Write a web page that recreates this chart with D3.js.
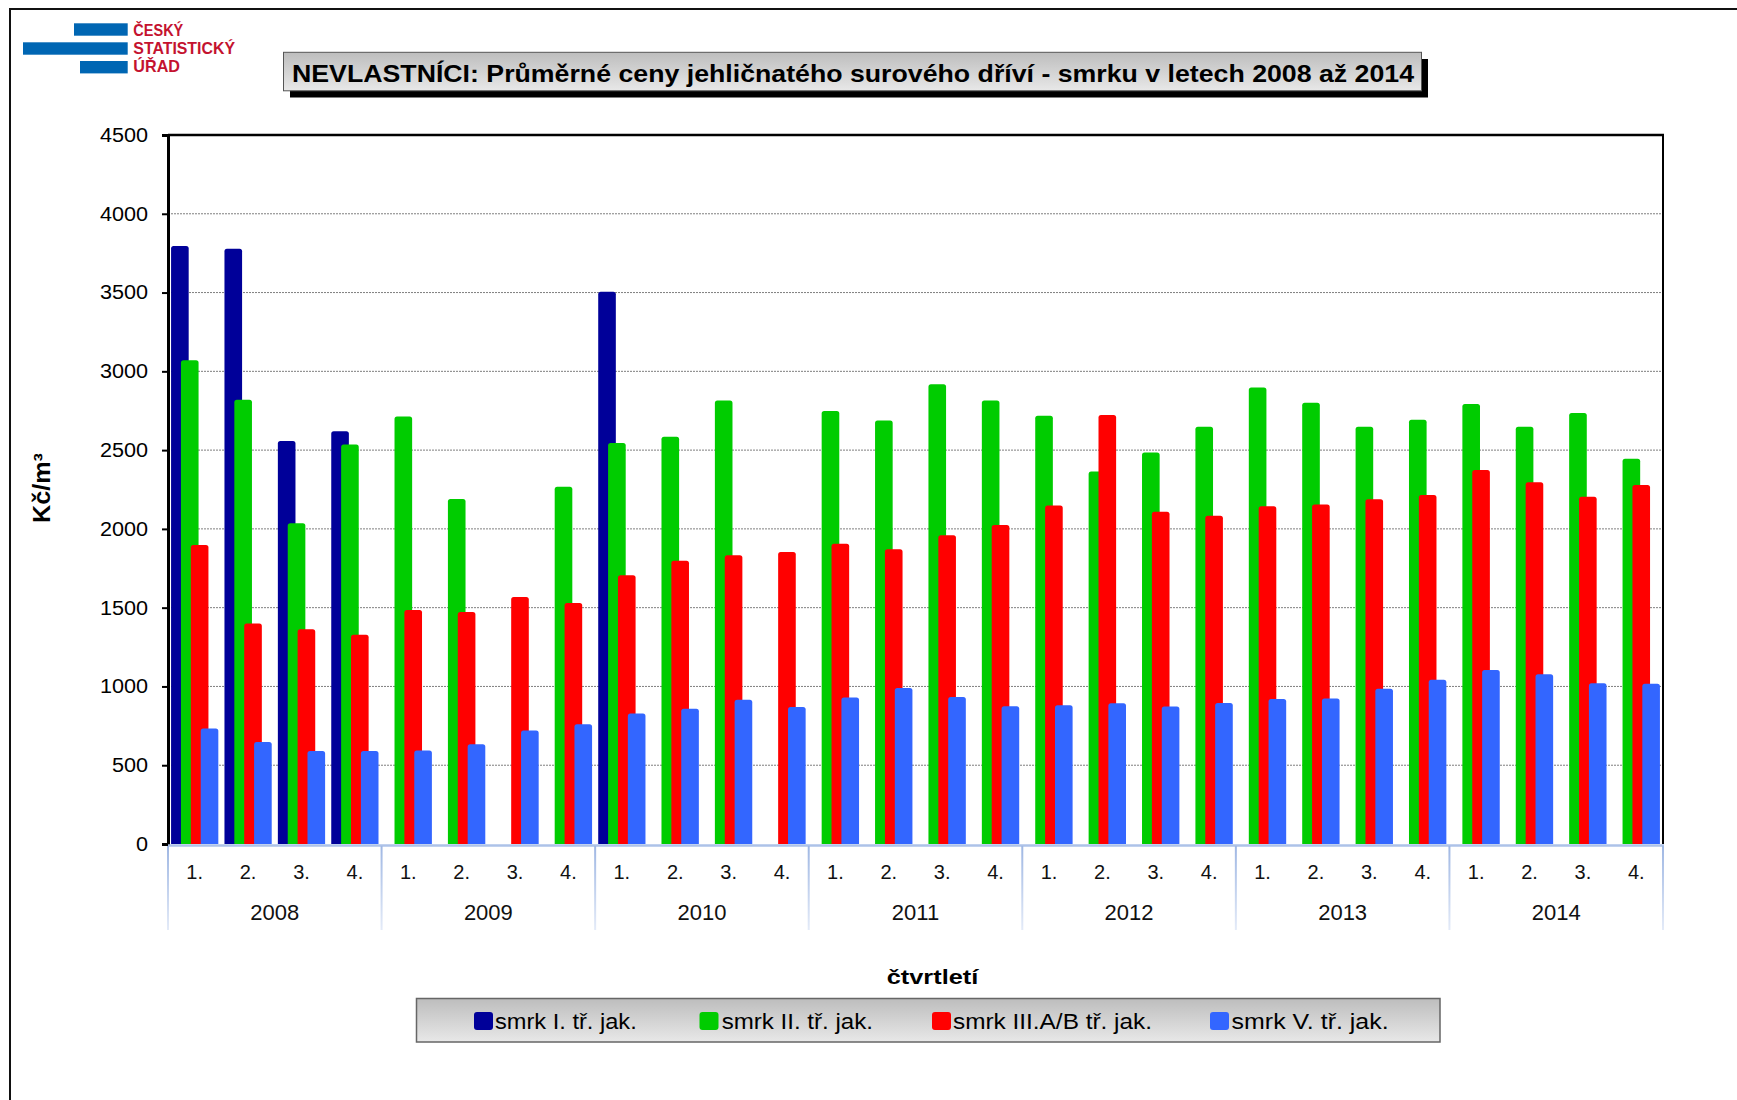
<!DOCTYPE html>
<html>
<head>
<meta charset="utf-8">
<script src="https://cdn.jsdelivr.net/npm/d3@7/dist/d3.min.js"></script>
<style>
  body { margin: 0; background: #fff; }
  text { font-family: "Liberation Sans", Arial, sans-serif; }
</style>
</head>
<body>
<div id="chart"></div>
<script>
// data (Kč/m³), null = no value
var years = ["2008", "2009", "2010", "2011", "2012", "2013", "2014"];
var quarters = ["1.", "2.", "3.", "4."];
var seriesNames = ["smrk I. tř. jak.", "smrk II. tř. jak.", "smrk III.A/B tř. jak.", "smrk V. tř. jak."];
var seriesColors = ["#000099", "#00cc00", "#ff0000", "#3366ff"];
var yTicks = [0, 500, 1000, 1500, 2000, 2500, 3000, 3500, 4000, 4500];

var smrk1 = [3795, 3778, 2558, 2620, null, null, null, null, 3505, null, null, null, null, null,
             null, null, null, null, null, null, null, null, null, null, null, null, null, null];
var smrk2 = [3070, 2820, 2035, 2535, 2713, 2190, null, 2268, 2545, 2585, 2815, null, 2748, 2688,
             2918, 2815, 2718, 2365, 2485, 2648, 2898, 2800, 2648, 2693, 2793, 2648, 2735, 2445];
var smrk3 = [1898, 1400, 1363, 1328, 1485, 1473, 1568, 1530, 1705, 1798, 1833, 1853, 1905, 1870,
             1960, 2025, 2148, 2723, 2108, 2083, 2143, 2155, 2188, 2215, 2373, 2296, 2204, 2279];
var smrk5 = [733, 648, 590, 590, 593, 633, 720, 760, 828, 858, 915, 870, 930, 990,
             933, 875, 880, 893, 873, 895, 920, 923, 985, 1043, 1105, 1078, 1020, 1017];

var allSeries = [smrk1, smrk2, smrk3, smrk5];

var W = 1737, H = 1100;
var plot = { left: 168, right: 1663, top: 135, bottom: 844 };

var svg = d3.select("#chart").append("svg")
    .attr("width", W).attr("height", H);

var defs = svg.append("defs");
var g1 = defs.append("linearGradient").attr("id", "boxGrad")
    .attr("x1", 0).attr("y1", 0).attr("x2", 0).attr("y2", 1);
g1.append("stop").attr("offset", "0%").attr("stop-color", "#bdbdbd");
g1.append("stop").attr("offset", "100%").attr("stop-color", "#e8e8e8");
var g2 = defs.append("linearGradient").attr("id", "sepGrad")
    .attr("x1", 0).attr("y1", 0).attr("x2", 0).attr("y2", 1);
g2.append("stop").attr("offset", "0%").attr("stop-color", "#9fb7e3");
g2.append("stop").attr("offset", "100%").attr("stop-color", "#e4ebf8");

// stretch text to the width it has in the picture
function fit(sel, w) {
    sel.attr("textLength", w).attr("lengthAdjust", "spacingAndGlyphs");
}

// outer frame
svg.append("rect")
    .attr("x", 10).attr("y", 9).attr("width", W + 20).attr("height", H + 20)
    .attr("fill", "none").attr("stroke", "#111").attr("stroke-width", 2);

// logo
var logoBars = [[74, 23.3, 53.7], [23, 42.3, 104.7], [80, 61, 47.7]];
logoBars.forEach(function(b) {
    svg.append("rect").attr("x", b[0]).attr("y", b[1]).attr("width", b[2]).attr("height", 12.4)
        .attr("fill", "#0066b3");
});
var logoText = [["ČESKÝ", 35.7, 50], ["STATISTICKÝ", 54.4, 101.7], ["ÚŘAD", 72.4, 46.7]];
logoText.forEach(function(t) {
    svg.append("text").attr("x", 133.3).attr("y", t[1])
        .attr("font-size", 16.5).attr("font-weight", "bold").attr("fill", "#c4122f")
        .text(t[0]).call(fit, t[2]);
});

// title box
svg.append("rect").attr("x", 290).attr("y", 59).attr("width", 1138).attr("height", 38.5)
    .attr("fill", "#000");
svg.append("rect").attr("x", 283.5).attr("y", 52.3).attr("width", 1138).attr("height", 38.5)
    .attr("fill", "url(#boxGrad)").attr("stroke", "#555").attr("stroke-width", 1);
svg.append("text").attr("x", 292).attr("y", 82)
    .attr("font-size", 24).attr("font-weight", "bold").attr("fill", "#000")
    .text("NEVLASTNÍCI: Průměrné ceny jehličnatého surového dříví - smrku v letech 2008 až 2014")
    .call(fit, 1122);

// scales
var cats = [];
years.forEach(function(y) {
    quarters.forEach(function(q) { cats.push(y + "-" + q); });
});

var x = d3.scaleBand().domain(cats).range([plot.left, plot.right]).paddingInner(0).paddingOuter(0);
var xYear = d3.scaleBand().domain(years).range([plot.left, plot.right]);
var y = d3.scaleLinear().domain([0, 4500]).range([plot.bottom, plot.top]);

var bw = x.bandwidth();
var barW = bw * 0.33;
var step = bw * 0.185;
var pad = (bw - (3 * step + barW)) / 2;

// gridlines
svg.append("g").selectAll("line")
    .data(yTicks.filter(function(d) { return d > 0 && d < 4500; }))
    .enter().append("line")
    .attr("x1", plot.left).attr("x2", plot.right)
    .attr("y1", function(d) { return y(d); }).attr("y2", function(d) { return y(d); })
    .attr("stroke", "#7f7f7f").attr("stroke-width", 1).attr("stroke-dasharray", "2,1");

// bars with rounded top corners
function barPath(x0, w, v) {
    var top = y(v), bot = y(0), r = Math.min(2.5, (bot - top) / 2);
    return "M" + x0 + "," + bot + "V" + (top + r) + "Q" + x0 + "," + top + " " + (x0 + r) + "," + top +
        "H" + (x0 + w - r) + "Q" + (x0 + w) + "," + top + " " + (x0 + w) + "," + (top + r) +
        "V" + bot + "Z";
}

var barsG = svg.append("g");
cats.forEach(function(c, ci) {
    allSeries.forEach(function(s, si) {
        if (s[ci] == null) return;
        barsG.append("path")
            .attr("d", barPath(x(c) + pad + si * step, barW, s[ci]))
            .attr("fill", seriesColors[si]);
    });
});

// plot frame (top / right)
svg.append("line").attr("x1", plot.left).attr("x2", plot.right + 1)
    .attr("y1", plot.top).attr("y2", plot.top).attr("stroke", "#000").attr("stroke-width", 2.5);
svg.append("line").attr("x1", plot.right).attr("x2", plot.right)
    .attr("y1", plot.top).attr("y2", plot.bottom).attr("stroke", "#000").attr("stroke-width", 2);

// y axis
var yAxis = svg.append("g")
    .attr("transform", "translate(" + plot.left + ",0)")
    .call(d3.axisLeft(y).tickValues(yTicks).tickSize(6).tickPadding(14).tickFormat(d3.format("d")));
yAxis.select(".domain").attr("stroke", "#000").attr("stroke-width", 3);
yAxis.selectAll(".tick line").attr("stroke", "#000").attr("stroke-width", 2);
yAxis.selectAll(".tick text")
    .attr("font-size", 20).attr("fill", "#000")
    .attr("font-family", "'Liberation Sans', Arial, sans-serif");
yAxis.selectAll(".tick text").each(function() {
    var t = d3.select(this);
    t.call(fit, this.getComputedTextLength() * 1.08);
});

svg.append("text")
    .attr("transform", "translate(50,488) rotate(-90)")
    .attr("text-anchor", "middle")
    .attr("font-size", 23).attr("font-weight", "bold").attr("fill", "#000")
    .text("Kč/m³").call(fit, 70);

// category axis
svg.append("line").attr("x1", plot.left).attr("x2", plot.right + 1)
    .attr("y1", plot.bottom + 1.5).attr("y2", plot.bottom + 1.5)
    .attr("stroke", "#adc2e8").attr("stroke-width", 2.5);

svg.append("g").selectAll("rect")
    .data(years.concat(["end"]))
    .enter().append("rect")
    .attr("x", function(d, i) { return (i < years.length ? xYear(d) : plot.right) - 1; })
    .attr("y", plot.bottom + 2)
    .attr("width", 2).attr("height", 84)
    .attr("fill", "url(#sepGrad)");

svg.append("g").selectAll("text")
    .data(cats)
    .enter().append("text")
    .attr("x", function(d) { return x(d) + bw / 2; })
    .attr("y", 879)
    .attr("text-anchor", "middle")
    .attr("font-size", 20).attr("fill", "#111")
    .text(function(d) { return d.split("-")[1]; });

svg.append("g").selectAll("text")
    .data(years)
    .enter().append("text")
    .attr("x", function(d) { return xYear(d) + xYear.bandwidth() / 2; })
    .attr("y", 920)
    .attr("text-anchor", "middle")
    .attr("font-size", 22).attr("fill", "#111")
    .text(function(d) { return d; });

svg.append("text").attr("x", 932.5).attr("y", 984)
    .attr("text-anchor", "middle")
    .attr("font-size", 21).attr("font-weight", "bold").attr("fill", "#000")
    .text("čtvrtletí").call(fit, 91.5);

// legend
svg.append("rect").attr("x", 416.5).attr("y", 998.5).attr("width", 1023.5).attr("height", 43.5)
    .attr("fill", "url(#boxGrad)").attr("stroke", "#666").attr("stroke-width", 1.5);

var legendPos = [[474, 495, 141.7], [699.5, 721.7, 151.3], [932, 953, 199], [1210, 1231.6, 157]];
seriesNames.forEach(function(n, i) {
    var p = legendPos[i];
    svg.append("rect").attr("x", p[0]).attr("y", 1012).attr("width", 19).attr("height", 18)
        .attr("rx", 3).attr("fill", seriesColors[i]);
    svg.append("text").attr("x", p[1]).attr("y", 1029)
        .attr("font-size", 22.5).attr("fill", "#000")
        .text(n).call(fit, p[2]);
});
</script>
</body>
</html>
